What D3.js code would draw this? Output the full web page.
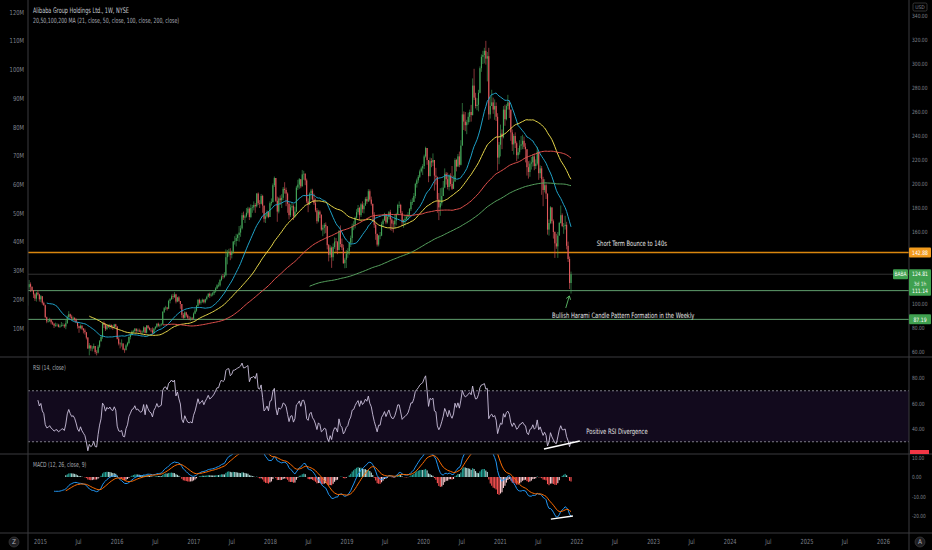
<!DOCTYPE html>
<html lang="en">
<head>
<meta charset="UTF-8">
<title>BABA 1W</title>
<script src="https://d3js.org/d3.v7.min.js"></script>
<style>
body { margin: 0; background: #000; }
svg text { font-family: "Liberation Sans Narrow", "DejaVu Sans Condensed", "Roboto Condensed", sans-serif; }
</style>
</head>
<body>
<div id="chart"></div>
<script>
// weekly bars, first week starts Mon 2014-09-15 (IPO week)
var firstWeek = [2014, 8, 15];
var firstOpen = 92.7;

var closes = [
  93.9,90.6,88.1,86.4,91.0,97.6,98.6,114.0,116.5,114.4,111.6,108.0,104.5,109.4,108.0,103.9,
  106.5,101.0,99.0,89.0, 85.5,85.8,87.0,84.7, 83.6,81.9,82.5,82.7,81.0, 81.5,82.2,82.4,81.3, 84.0,89.0,91.5,89.5, 88.0,88.4,87.2,84.8,81.5, 80.0,81.8,79.5,78.0, 76.5,72.0,63.0,65.5,63.0, 63.5,65.0,60.0,59.5, 64.5,69.0,72.5,84.0, 82.5,79.0,82.0,81.0,82.5, 81.0,80.5,83.0,81.3,
  71.0,67.0,66.5,67.0, 62.0,61.5,65.5,67.5,72.5, 74.5,77.0,77.5,79.5, 77.5,78.0,77.0,76.5, 77.0,80.5,76.0,82.0,80.0, 78.5,78.0,76.0,79.5, 81.0,83.5,82.0,82.5, 83.0,93.5,96.5,97.0,96.0, 102.5,104.0,106.5,105.8, 108.0,102.0,105.5,102.5,100.0, 91.0,88.5,93.0,90.5, 88.5,88.0,88.5,87.8,
  92.0,94.5,98.5,103.5,101.0, 102.0,103.5,101.5,104.0, 106.0,108.5,107.0,107.8, 109.0,110.5,113.0,115.5, 115.5,120.0,123.0,122.5,124.0, 139.0,143.0,143.5,140.9, 143.5,152.0,152.5,155.0,157.5, 159.5,163.0,174.0,172.0, 173.0,176.0,179.5,172.5, 180.0,180.5,182.5,181.5,192.0, 184.0,183.5,190.0,182.0, 171.0,173.0,176.5,172.5,
  184.0,185.0,199.0,205.0,186.0, 177.0,188.0,186.5,188.5, 196.0,195.0,192.0,183.5, 174.0,180.5,181.5,173.0,177.0, 197.0,199.5,204.0,198.0, 208.0,208.5,203.0,185.5, 183.0,192.0,194.5,187.0,184.0, 178.0,169.0,177.0,174.5, 162.0,163.5,166.0,164.8, 149.0,141.0,147.0,139.0,147.5, 152.0,151.5,145.0,161.0, 150.0,147.0,134.0,137.0,142.0,
  144.0,151.0,155.0,165.0, 166.0,172.0,176.5,180.0, 174.0,183.0,179.0,182.0, 187.5,185.5,194.0,187.0,183.5, 174.5,166.0,158.5,149.5, 157.0,157.0,166.5,169.5, 174.0,168.0,172.5,176.5,170.5, 167.0,166.5,169.5,175.0, 182.5,182.5,176.0,168.0,170.0, 171.0,172.5,174.5,179.0, 185.0,185.0,190.0,200.0, 203.0,206.0,210.5,213.0,215.0,
  223.0,230.0,220.0,206.5, 219.0,218.0,220.0,207.0, 206.0,187.0,180.5,184.0,190.0, 197.0,208.5,204.0,197.5, 207.0,200.0,196.0,202.0, 220.0,214.5,223.0,216.0,232.0, 258.0,252.0,249.0,251.5, 256.0,260.0,257.5,282.0,272.0, 265.0,266.0,276.0,296.5, 306.0,307.5,311.0,304.5, 306.5,258.0,265.0,268.0,262.0, 265.0,256.0,222.0,232.7,
  242.0,239.0,262.0,254.0, 265.0,268.0,262.0,243.0, 233.0,240.0,234.0,224.0,226.5, 232.0,233.0,236.0,231.0, 229.0,214.0,210.0,217.0,218.0, 223.0,215.0,217.0,227.0, 209.0,213.0,204.0,195.0, 199.0,192.0,162.0,167.5,180.5, 169.0,160.0,150.5,148.0, 157.0,167.5,174.0,165.0, 165.0,166.0,148.5,137.5,117.5, 124.81
];

var highs = [
  99.7,91.8,90.8,89.5,91.5,97.8,100.3,115.0,120.0,118.0,114.5,111.0,109.0,110.0,111.5,108.5,
  107.5,106.5,102.0,99.5, 89.5,87.5,88.5,87.5, 85.5,84.0,84.5,84.0,83.5, 83.0,85.0,84.0,83.5, 86.5,90.5,94.0,92.0, 91.0,89.5,89.0,88.0,84.5, 82.0,83.0,82.5,80.0, 79.5,75.5,72.5,67.5,65.5, 65.0,67.0,64.5,61.5, 66.0,70.0,74.0,84.5, 85.5,84.0,83.0,83.0,83.5, 83.0,82.5,83.5,83.5,
  80.0,72.5,68.0,70.5, 67.5,63.0,66.5,68.5,73.0, 75.5,78.0,78.5,80.0, 79.5,79.5,79.5,78.5, 78.0,81.5,80.5,82.5,82.5, 81.0,80.0,80.5,80.0, 81.5,84.0,84.5,83.5, 84.0,94.0,97.5,98.5,97.5, 103.5,105.0,108.0,108.5, 109.9,108.5,106.0,106.5,102.5, 100.0,92.5,94.0,93.5, 91.5,90.0,89.5,89.0,
  93.0,96.0,99.0,104.0,104.5, 103.5,104.5,104.0,104.5, 107.0,109.0,109.5,109.0, 110.0,111.0,114.0,116.5, 118.0,121.0,124.0,125.0,126.5, 145.5,145.0,146.0,146.5, 144.5,152.5,156.5,158.5,158.5, 165.0,165.5,176.0,177.0, 174.5,180.0,181.0,180.5, 183.0,182.5,185.5,184.0,192.5, 193.0,186.5,191.7,191.0, 181.5,175.5,178.0,177.5,
  185.5,188.0,200.5,206.2,204.0, 189.5,189.0,190.5,191.5, 197.5,201.5,197.0,193.0, 184.5,183.0,184.5,183.0,181.0, 198.5,203.5,205.0,204.0, 211.7,211.0,209.0,204.5, 188.0,193.0,196.0,196.0,192.0, 188.0,180.0,178.5,178.0, 174.0,166.0,167.5,168.0, 165.0,150.0,149.0,148.0,150.5, 155.5,155.0,152.5,161.5, 165.5,154.5,149.5,138.5,145.0,
  146.5,152.0,157.0,167.0, 169.0,173.0,179.0,182.5, 181.0,184.0,185.5,184.0, 189.0,189.5,195.7,195.5,189.5, 181.0,176.5,167.5,158.0, 157.5,160.0,168.5,171.0, 176.0,174.5,173.5,177.5,178.5, 172.0,169.5,175.0,176.0, 183.5,185.5,183.5,177.5,170.5, 174.0,174.5,176.5,180.0, 187.0,188.5,192.5,201.0, 204.5,207.5,212.0,214.5,216.5,
  224.5,231.1,229.0,218.5, 222.0,221.5,225.5,219.0, 213.5,206.0,192.5,196.5,197.0, 202.5,213.0,210.0,209.5, 208.0,209.0,215.0,207.0, 221.5,221.0,225.0,227.0,236.5, 267.5,260.5,260.0,253.5, 259.5,262.0,266.0,288.0,296.0, 276.0,271.5,278.5,298.0, 308.0,311.0,313.5,319.3, 310.0,313.5,272.5,278.5,272.0, 270.5,268.0,259.0,235.0,
  249.5,245.5,265.0,266.0, 266.5,274.3,270.0,262.0, 245.5,241.5,243.0,235.5,230.0, 236.5,240.0,241.0,239.5, 234.0,229.0,219.0,219.5,222.5, 225.0,225.5,220.5,230.9, 226.0,215.5,215.0,206.0, 204.0,200.5,192.0,170.5,181.5, 180.5,170.5,160.5,158.5, 160.0,168.5,182.1,175.5, 167.5,173.5,168.5,152.0,139.5, 127.0
];

var lows = [
  89.9,87.2,85.5,84.0,82.0,89.5,95.2,98.5,112.0,110.0,110.5,105.0,102.5,102.0,107.0,102.0,
  101.5,99.5,98.5,88.2, 84.0,84.5,84.9,83.0, 82.5,80.0,81.0,81.2,80.5, 80.0,81.0,81.5,80.0, 79.0,83.5,88.5,88.0, 86.5,86.0,85.5,84.0,79.5, 76.0,79.0,78.5,75.5, 74.5,70.5,62.5,57.2,61.0, 60.5,62.5,58.5,57.2, 58.8,63.5,68.5,71.0, 80.0,77.5,78.5,80.0,79.0, 79.5,78.5,80.0,80.5,
  70.5,65.5,63.0,64.5, 61.5,59.3,62.0,64.5,66.5, 70.5,73.5,75.5,76.5, 76.0,76.5,76.5,75.5, 75.0,76.0,75.5,75.5,79.0, 78.0,76.5,74.5,75.0, 78.5,80.0,81.0,80.5, 81.5,83.0,92.5,95.0,94.5, 96.0,100.5,103.5,104.0, 105.0,100.5,101.5,101.5,96.0, 88.5,87.5,88.0,89.0, 87.5,86.5,86.0,86.5,
  87.5,91.5,93.5,98.0,99.5, 99.5,101.0,100.5,100.5, 103.0,105.5,105.0,106.0, 106.5,107.5,109.5,112.5, 114.0,114.5,119.0,121.0,121.5, 123.0,133.0,139.5,136.5, 138.0,142.0,149.5,148.0,152.5, 152.0,156.0,162.0,170.0, 167.5,172.0,174.5,170.0, 171.5,176.0,178.0,176.0,180.5, 182.5,180.0,183.0,176.0, 168.0,167.5,172.0,171.5,
  173.0,182.0,184.5,197.5,185.0, 168.5,175.5,182.5,180.0, 186.5,192.0,181.5,176.0, 170.5,172.5,178.0,170.0,172.0, 176.5,195.0,196.0,196.5, 200.0,203.5,199.0,184.0, 176.5,182.5,187.0,185.5,182.5, 176.5,167.0,168.0,171.5, 161.0,156.5,158.5,159.0, 145.5,135.5,138.5,130.1,136.0, 146.0,143.5,141.5,144.5, 147.5,145.0,133.5,129.8,130.0,
  138.5,141.0,147.5,151.0, 161.5,163.0,171.0,174.5, 170.0,172.5,176.0,175.5, 182.5,183.5,185.0,185.5,182.0, 168.5,163.5,153.5,147.9, 148.0,154.0,156.5,164.5, 170.0,166.5,167.0,170.5,161.5, 161.0,159.5,163.0,165.5, 174.5,180.0,174.5,165.0,163.5, 165.5,169.0,170.0,172.5, 177.5,182.5,185.0,188.0, 197.0,201.0,205.0,209.5,207.5,
  212.5,222.0,216.0,201.5, 207.5,214.0,215.0,194.5, 199.5,176.0,169.9,173.5,182.0, 191.0,196.5,199.5,195.5, 194.5,198.0,195.0,196.0, 203.0,210.5,214.5,214.0,215.5, 240.0,245.0,244.0,241.5, 249.5,251.5,252.0,257.0,270.0, 263.0,261.5,260.5,275.5, 293.5,300.0,300.5,299.5, 285.5,253.5,254.5,266.0,258.5, 253.5,252.5,211.2,216.5,
  223.0,229.0,238.0,248.5, 253.0,262.0,255.0,236.0, 227.5,224.5,230.0,219.0,221.0, 224.5,228.5,229.0,229.0, 218.0,207.0,204.5,206.0,212.0, 214.5,211.5,212.5,215.5, 203.5,205.0,191.0,181.5, 193.0,187.5,157.8,157.0,166.5, 167.0,154.5,138.4,146.0, 138.4,157.0,167.0,164.0, 158.5,162.0,145.5,135.0,112.5, 108.7
];

// moving averages: length + colour
var maLengths = [21, 50, 100, 200];
var maColors = ['#1fa2c8', '#e6d64a', '#e0504c', '#57a35f'];

// horizontal levels drawn on the chart
var levelPrices = [142.88, 124.81, 111.14, 87.19];
var levelColors = ['#d9860f', '#333333', '#5f9e6d', '#5f9e6d'];
var labelColors = ['#f29b1d', '#3fa04f', '#3fa04f', '#3fa04f'];

// 120 and 140 sit under the price tags, so they are not shown
var priceTicks = [60, 80, 100, 160, 180, 200, 220, 240, 260, 280, 300, 320, 340];
var volTicks = d3.range(10, 121, 10);
var rsiTicks = [40, 60, 80];
var macdTicks = [10, 0, -10, -20];

var W = 932, H = 550, L = 28, R = 909;
var panes = { main: [0, 357], rsi: [357, 454], macd: [454, 533] };
var axisGrey = '#7f828c';

var svg = d3.select('#chart').append('svg')
    .attr('width', W).attr('height', H)
    .style('background', '#000');

var x = d3.scaleUtc()
    .domain([new Date(Date.UTC(2015, 0, 1)), new Date(Date.UTC(2026, 0, 1))])
    .range([40, 883]);
var y = d3.scaleLinear().domain([60, 340]).range([352, 16]);
var yVol = d3.scaleLinear().domain([0, 120]).range([356.7, 12]);
var yRsi = d3.scaleLinear().domain([0, 100]).range([480, 352.5]);
var yMacd = d3.scaleLinear().domain([-20, 10]).range([515.6, 457.7]);

function wk(i) { return new Date(Date.UTC(firstWeek[0], firstWeek[1], firstWeek[2] + 7 * i)); }
function day(s) { return new Date(s + 'T00:00:00Z'); }

// text in the screenshot is a very narrow face, squeeze ours to the same width
function squeeze(sel, k) {
    sel.each(function() {
        var w = this.getComputedTextLength();
        d3.select(this).attr('textLength', w * k).attr('lengthAdjust', 'spacingAndGlyphs');
    });
}

var bars = closes.map(function(c, i) {
    var o = i === 0 ? firstOpen : closes[i - 1];
    var h = highs[i] == null ? c : highs[i];
    var l = lows[i] == null ? c : lows[i];
    return { t: wk(i), o: o, c: c, h: Math.max(h, o, c), l: Math.min(l, o, c) };
});

// ---- indicators (same as the platform computes them)
function sma(src, n) {
    return src.map(function(v, i) {
        if (i < n - 1) return null;
        var s = 0;
        for (var k = i - n + 1; k <= i; k++) s += src[k];
        return s / n;
    });
}
function ema(src, n, alpha) {
    var a = alpha || 2 / (n + 1), out = [], prev = null, start = -1;
    for (var i = 0; i < src.length; i++) {
        if (src[i] == null) { out.push(null); continue; }
        if (start < 0) start = i;
        if (i - start < n - 1) { out.push(null); continue; }
        if (prev == null) {
            var s = 0;
            for (var k = i - n + 1; k <= i; k++) s += src[k];
            prev = s / n;
        } else {
            prev = a * src[i] + (1 - a) * prev;
        }
        out.push(prev);
    }
    return out;
}

var mas = maLengths.map(function(n) { return sma(closes, n); });

var gains = closes.map(function(c, i) { return i === 0 ? null : Math.max(c - closes[i - 1], 0); });
var losses = closes.map(function(c, i) { return i === 0 ? null : Math.max(closes[i - 1] - c, 0); });
var up = ema(gains, 14, 1 / 14), dn = ema(losses, 14, 1 / 14);
var rsi = up.map(function(u, i) {
    if (u == null) return null;
    return dn[i] === 0 ? 100 : 100 - 100 / (1 + u / dn[i]);
});

var fast = ema(closes, 12), slow = ema(closes, 26);
var macd = fast.map(function(f, i) { return slow[i] == null ? null : f - slow[i]; });
var signal = ema(macd, 9);
var hist = macd.map(function(m, i) { return signal[i] == null ? null : m - signal[i]; });

// ---- clip paths
var defs = svg.append('defs');
Object.keys(panes).forEach(function(k) {
    defs.append('clipPath').attr('id', 'clip-' + k)
        .append('rect')
        .attr('x', L).attr('y', panes[k][0])
        .attr('width', R - L).attr('height', panes[k][1] - panes[k][0]);
});

// ---- main pane
var main = svg.append('g').attr('clip-path', 'url(#clip-main)');

levelPrices.forEach(function(p, i) {
    main.append('line')
        .attr('x1', L).attr('x2', R)
        .attr('y1', y(p)).attr('y2', y(p))
        .attr('stroke', levelColors[i])
        .attr('stroke-width', i === 0 ? 1.4 : 1);
});

var candle = main.append('g').selectAll('g').data(bars).enter().append('g')
    .attr('fill', function(d) { return d.c >= d.o ? '#45a85a' : '#e0585c'; })
    .attr('stroke', function(d) { return d.c >= d.o ? '#45a85a' : '#e0585c'; });
candle.append('line')
    .attr('x1', function(d) { return x(d.t); })
    .attr('x2', function(d) { return x(d.t); })
    .attr('y1', function(d) { return y(d.h); })
    .attr('y2', function(d) { return y(d.l); })
    .attr('stroke-width', 0.6);
candle.append('rect')
    .attr('stroke', 'none')
    .attr('x', function(d) { return x(d.t) - 0.55; })
    .attr('width', 1.1)
    .attr('y', function(d) { return y(Math.max(d.o, d.c)); })
    .attr('height', function(d) { return Math.max(0.6, Math.abs(y(d.o) - y(d.c))); });

mas.forEach(function(series, j) {
    main.append('path')
        .datum(series.map(function(v, i) { return { t: bars[i].t, v: v }; }))
        .attr('fill', 'none')
        .attr('stroke', maColors[j])
        .attr('stroke-width', 1)
        .attr('d', d3.line()
            .defined(function(d) { return d.v != null; })
            .x(function(d) { return x(d.t); })
            .y(function(d) { return y(d.v); }));
});

// notes on the price pane
var notes = [
    { text: 'Short Term Bounce to 140s', date: '2022-09-22', price: 148.4 },
    { text: 'Bullish Harami Candle Pattern Formation in the Weekly', date: '2022-08-12', price: 88.4 }
];
main.selectAll('text.note').data(notes).enter().append('text')
    .attr('class', 'note')
    .attr('x', function(d) { return x(day(d.date)); })
    .attr('y', function(d) { return y(d.price); })
    .attr('text-anchor', 'middle')
    .attr('fill', '#e6e6e6')
    .attr('font-size', 7.4)
    .text(function(d) { return d.text; })
    .call(squeeze, 0.78);

var arrowFrom = { date: '2021-11-11', price: 96.7 }, arrowTo = { date: '2021-11-28', price: 106.7 };
var ax0 = x(day(arrowFrom.date)), ay0 = y(arrowFrom.price), ax1 = x(day(arrowTo.date)), ay1 = y(arrowTo.price);
var ang = Math.atan2(ay1 - ay0, ax1 - ax0);
main.append('path')
    .attr('fill', 'none').attr('stroke', '#5fbf6a').attr('stroke-width', 0.9)
    .attr('d', 'M' + ax0 + ',' + ay0 + 'L' + ax1 + ',' + ay1 +
        'M' + (ax1 - 4 * Math.cos(ang - 0.6)) + ',' + (ay1 - 4 * Math.sin(ang - 0.6)) +
        'L' + ax1 + ',' + ay1 +
        'L' + (ax1 - 4 * Math.cos(ang + 0.6)) + ',' + (ay1 - 4 * Math.sin(ang + 0.6)));

// legend
svg.append('text').attr('x', 33).attr('y', 13).attr('fill', '#c9ccd4').attr('font-size', 7.6)
    .text('Alibaba Group Holdings Ltd., 1W, NYSE').call(squeeze, 0.72);
svg.append('text').attr('x', 33).attr('y', 23).attr('fill', '#a9acb5').attr('font-size', 7.2)
    .text('20,50,100,200 MA (21, close, 50, close, 100, close, 200, close)').call(squeeze, 0.72);

// ---- RSI pane
var rsiG = svg.append('g').attr('clip-path', 'url(#clip-rsi)');
rsiG.append('rect')
    .attr('x', L).attr('width', R - L)
    .attr('y', yRsi(70)).attr('height', yRsi(30) - yRsi(70))
    .attr('fill', '#120a1d');
[70, 30].forEach(function(v) {
    rsiG.append('line')
        .attr('x1', L).attr('x2', R).attr('y1', yRsi(v)).attr('y2', yRsi(v))
        .attr('stroke', '#9a9aa6').attr('stroke-width', 0.8).attr('stroke-dasharray', '2,2');
});
rsiG.append('path')
    .datum(rsi.map(function(v, i) { return { t: bars[i].t, v: v }; }))
    .attr('fill', 'none').attr('stroke', '#cdc2de').attr('stroke-width', 0.9)
    .attr('d', d3.line()
        .defined(function(d) { return d.v != null; })
        .x(function(d) { return x(d.t); })
        .y(function(d) { return yRsi(d.v); }));

var rsiTrend = [{ date: '2021-07-30', v: 24.3 }, { date: '2022-01-17', v: 30.6 }];
rsiG.append('line')
    .attr('x1', x(day(rsiTrend[0].date))).attr('y1', yRsi(rsiTrend[0].v))
    .attr('x2', x(day(rsiTrend[1].date))).attr('y2', yRsi(rsiTrend[1].v))
    .attr('stroke', '#ffffff').attr('stroke-width', 1.4);
rsiG.append('text')
    .attr('x', x(day('2022-07-13'))).attr('y', yRsi(36.1))
    .attr('text-anchor', 'middle').attr('fill', '#e6e6e6').attr('font-size', 7.4)
    .text('Positive RSI Divergence').call(squeeze, 0.78);
svg.append('text').attr('x', 33).attr('y', 370).attr('fill', '#a9acb5').attr('font-size', 7)
    .text('RSI (14, close)').call(squeeze, 0.72);

// ---- MACD pane
var macdG = svg.append('g').attr('clip-path', 'url(#clip-macd)');
macdG.append('g').selectAll('rect')
    .data(hist.map(function(v, i) { return { t: bars[i].t, v: v, p: i > 0 ? hist[i - 1] : null }; })
        .filter(function(d) { return d.v != null; }))
    .enter().append('rect')
    .attr('x', function(d) { return x(d.t) - 0.55; })
    .attr('width', 1.1)
    .attr('y', function(d) { return Math.min(yMacd(0), yMacd(d.v)); })
    .attr('height', function(d) { return Math.abs(yMacd(d.v) - yMacd(0)); })
    .attr('fill', function(d) {
        var rising = d.p != null && d.v > d.p;
        if (d.v >= 0) return rising ? '#26a69a' : '#b2dfdb';
        return rising ? '#ffcdd2' : '#ff5252';
    });
[[macd, '#2196f3'], [signal, '#ff6d00']].forEach(function(s) {
    macdG.append('path')
        .datum(s[0].map(function(v, i) { return { t: bars[i].t, v: v }; }))
        .attr('fill', 'none').attr('stroke', s[1]).attr('stroke-width', 1)
        .attr('d', d3.line()
            .defined(function(d) { return d.v != null; })
            .x(function(d) { return x(d.t); })
            .y(function(d) { return yMacd(d.v); }));
});
var macdTrend = [{ date: '2021-09-01', v: -21.8 }, { date: '2021-12-15', v: -20.2 }];
macdG.append('line')
    .attr('x1', x(day(macdTrend[0].date))).attr('y1', yMacd(macdTrend[0].v))
    .attr('x2', x(day(macdTrend[1].date))).attr('y2', yMacd(macdTrend[1].v))
    .attr('stroke', '#ffffff').attr('stroke-width', 1.4);
svg.append('text').attr('x', 33).attr('y', 467).attr('fill', '#a9acb5').attr('font-size', 7)
    .text('MACD (12, 26, close, 9)').call(squeeze, 0.72);

// ---- frame lines
[panes.main[1], panes.rsi[1], panes.macd[1]].forEach(function(yy) {
    svg.append('line').attr('x1', 0).attr('x2', W).attr('y1', yy).attr('y2', yy)
        .attr('stroke', '#3a3a3e').attr('stroke-width', 1);
});
[L, R].forEach(function(xx) {
    svg.append('line').attr('x1', xx).attr('x2', xx).attr('y1', 0).attr('y2', H)
        .attr('stroke', '#3a3a3e').attr('stroke-width', 1);
});

// ---- axes
function styleAxis(g, size, k) {
    g.select('.domain').remove();
    g.selectAll('line').remove();
    g.selectAll('text').attr('fill', axisGrey).attr('font-size', size)
        .style('font-family', '"Liberation Sans Narrow", "DejaVu Sans Condensed", sans-serif')
        .call(squeeze, k);
}
var rightFmt = function(d) { return d3.format('.2f')(d).replace('\u2212', '-'); };
svg.append('g').attr('transform', 'translate(' + R + ',0)')
    .call(d3.axisRight(y).tickValues(priceTicks).tickFormat(rightFmt).tickSize(0).tickPadding(3))
    .call(styleAxis, 5.8, 0.85);
svg.append('g').attr('transform', 'translate(' + (L - 2) + ',0)')
    .call(d3.axisLeft(yVol).tickValues(volTicks).tickFormat(function(d) { return d + 'M'; }).tickSize(0).tickPadding(2))
    .call(styleAxis, 6.8, 0.85);
svg.append('g').attr('transform', 'translate(' + R + ',0)')
    .call(d3.axisRight(yRsi).tickValues(rsiTicks).tickFormat(rightFmt).tickSize(0).tickPadding(3))
    .call(styleAxis, 5.8, 0.85);
svg.append('g').attr('transform', 'translate(' + R + ',0)')
    .call(d3.axisRight(yMacd).tickValues(macdTicks).tickFormat(rightFmt).tickSize(0).tickPadding(3))
    .call(styleAxis, 5.6, 0.85);

var timeTicks = d3.utcMonth.every(6).range(new Date(Date.UTC(2015, 0, 1)), new Date(Date.UTC(2026, 1, 1)));
svg.append('g').attr('transform', 'translate(0,' + (panes.macd[1] + 3) + ')')
    .call(d3.axisBottom(x).tickValues(timeTicks)
        .tickFormat(function(d) { return d.getUTCMonth() === 0 ? d.getUTCFullYear() : 'Jul'; })
        .tickSize(0).tickPadding(3))
    .call(styleAxis, 7, 0.8);

// ---- price labels on the right scale
function tag(px, text, color, h) {
    var yy = y(px);
    svg.append('rect').attr('x', R).attr('y', yy - 5).attr('width', 22).attr('height', h || 10)
        .attr('fill', color).attr('rx', 1);
    svg.append('text').attr('x', R + 11).attr('y', yy + 2.2).attr('text-anchor', 'middle')
        .attr('fill', '#ffffff').attr('font-size', 6).text(text).call(squeeze, 0.85);
}
tag(levelPrices[0], d3.format('.2f')(levelPrices[0]), labelColors[0]);
tag(levelPrices[1], d3.format('.2f')(levelPrices[1]), labelColors[1], 20);
svg.append('text').attr('x', R + 11).attr('y', y(levelPrices[1]) + 11.5).attr('text-anchor', 'middle')
    .attr('fill', '#e8f5e9').attr('font-size', 5.8).text('3d 1h').call(squeeze, 0.85);
svg.append('rect').attr('x', R - 16).attr('y', y(levelPrices[1]) - 5).attr('width', 15).attr('height', 10)
    .attr('fill', labelColors[1]).attr('rx', 1);
svg.append('text').attr('x', R - 8.5).attr('y', y(levelPrices[1]) + 2.2).attr('text-anchor', 'middle')
    .attr('fill', '#ffffff').attr('font-size', 6).text('BABA').call(squeeze, 0.8);
tag(levelPrices[2], d3.format('.2f')(levelPrices[2]), labelColors[2]);
tag(levelPrices[3], d3.format('.2f')(levelPrices[3]), labelColors[3]);

// rsi value tag sits at the bottom edge of the pane
svg.append('rect').attr('x', R + 1).attr('y', panes.rsi[1] - 4).attr('width', 19).attr('height', 4)
    .attr('fill', '#f23645');

// currency box and corner buttons
svg.append('rect').attr('x', R + 4).attr('y', 3).attr('width', 14).attr('height', 8)
    .attr('fill', '#000').attr('stroke', '#555').attr('stroke-width', 0.6).attr('rx', 1.5);
svg.append('text').attr('x', R + 11).attr('y', 9).attr('text-anchor', 'middle')
    .attr('fill', axisGrey).attr('font-size', 5).text('USD');
[[14, 'Z'], [920, 'A']].forEach(function(b) {
    svg.append('circle').attr('cx', b[0]).attr('cy', 542).attr('r', 5)
        .attr('fill', '#1e1e22').attr('stroke', '#444').attr('stroke-width', 0.6);
    svg.append('text').attr('x', b[0]).attr('y', 544.4).attr('text-anchor', 'middle')
        .attr('fill', '#b0b0b8').attr('font-size', 6.5).text(b[1]);
});
</script>
</body>
</html>
